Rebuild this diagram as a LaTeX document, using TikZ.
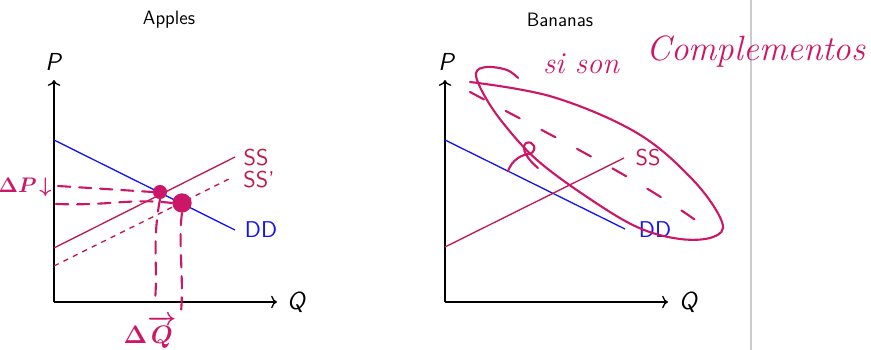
\documentclass[tikz,border=0pt]{standalone}
\usepackage{amsmath}
\usepackage{xcolor}
\usepackage{tikz}
\usetikzlibrary{arrows.meta,positioning,calc}
\definecolor{MktBlue}{HTML}{1414F0}
\definecolor{MktRed}{HTML}{C0184C}
\definecolor{MktInk}{HTML}{CC1668}
\definecolor{MktGray}{HTML}{CCCCCC}

\begin{document}
\begin{tikzpicture}[
  x=0.02cm, y=-0.02cm,
  font=\sffamily\fontsize{11}{13}\selectfont,
  axis/.style={->, line width=0.8pt, black},
  demand/.style={line width=0.75pt, color=MktBlue},
  supply/.style={line width=0.75pt, color=MktRed},
  lbl/.style={font=\sffamily\fontsize{13}{15}\selectfont, inner sep=0pt},
  axlbl/.style={font=\sffamily\itshape\fontsize{14}{16}\selectfont, inner sep=0pt},
  ink/.style={line width=1.2pt, color=MktInk, line cap=round, line join=round},
  inkdash/.style={ink, dash pattern=on 7pt off 5pt},
  dot/.style={circle, fill=MktInk, inner sep=0pt, minimum size=#1}
]
\useasboundingbox (0,0) rectangle (871,350);

% divider
\draw[MktGray, line width=1pt] (751,0) -- (751,350);

% Apples
\node (titleA) at (169,20) {Apples};
\draw[axis] (54,302) -- (54,80);
\draw[axis] (54,302) -- (277,302);
\node[axlbl] (pA) at (53,62) {P};
\node[axlbl] (qA) at (296,302) {Q};
\draw[demand] (54,140) -- (235,230);
\draw[supply] (54,248) -- (235,157);
\draw[supply, dashed] (54,266) -- (231,178);
\node[lbl, text=MktRed] (ssA) at (256,158) {SS};
\node[lbl, text=MktRed] (ss2A) at (259,180) {SS'};
\node[lbl, text=MktBlue] (ddA) at (261,230) {DD};

% hand notes, apples
\node[dot=8pt] (oldeq) at (160,192) {};
\node[dot=11pt] (neweq) at (182,203) {};
\coordinate (pOld) at (58,186);
\coordinate (pNew) at (56,204);
\coordinate (qOld) at (155,300);
\coordinate (qNew) at (181,312);
\draw[inkdash] (pOld) -- (oldeq.west);
\draw[inkdash] (pNew) .. controls (110,206) and (130,198) .. (neweq.west);
\draw[inkdash] (oldeq.south) .. controls (152,240) and (158,270) .. (qOld);
\draw[inkdash] (neweq.south) .. controls (178,240) and (184,280) .. (qNew);
\node[text=MktInk, font=\large] (dP) at (25,187) {$\boldsymbol{\Delta P\!\downarrow}$};
\node[text=MktInk, font=\Large] (dQ) at (150,332) {$\boldsymbol{\Delta\overrightarrow{Q}}$};

% Bananas
\node (titleB) at (560,20) {Bananas};
\draw[axis] (445,302) -- (445,80);
\draw[axis] (445,302) -- (668,302);
\node[axlbl] (pB) at (446,62) {P};
\node[axlbl] (qB) at (688,302) {Q};
\draw[demand] (445,140) -- (625,229);
\draw[supply] (445,247) -- (624,158);
\node[lbl, text=MktRed] (ssB) at (648,158) {SS};
\node[lbl, text=MktBlue] (ddB) at (655,230) {DD};

% hand notes, bananas
\draw[ink] plot[smooth, tension=0.6] coordinates {
  (470,82) (553,97) (637,133) (693,180) (722,222) (713,237) (680,239)
  (637,227) (587,197) (537,160) (503,123) (483,93) (476,73) (487,67)
  (507,70) (518,78)};
\draw[inkdash, dash pattern=on 9pt off 14pt] (470,92) .. controls (560,140) and (640,180) .. (698,222);
\draw[ink] (508,171) .. controls (512,160) and (522,154) .. (530,154)
  .. controls (538,150) and (534,140) .. (526,143)
  .. controls (520,148) and (528,160) .. (538,168);
\node[text=MktInk, font=\itshape\LARGE] (siSon) at (581,64) {si son};
\node[text=MktInk, font=\itshape\fontsize{20}{23}\selectfont] (compl) at (756,52) {Complementos};
\end{tikzpicture}
\end{document}
